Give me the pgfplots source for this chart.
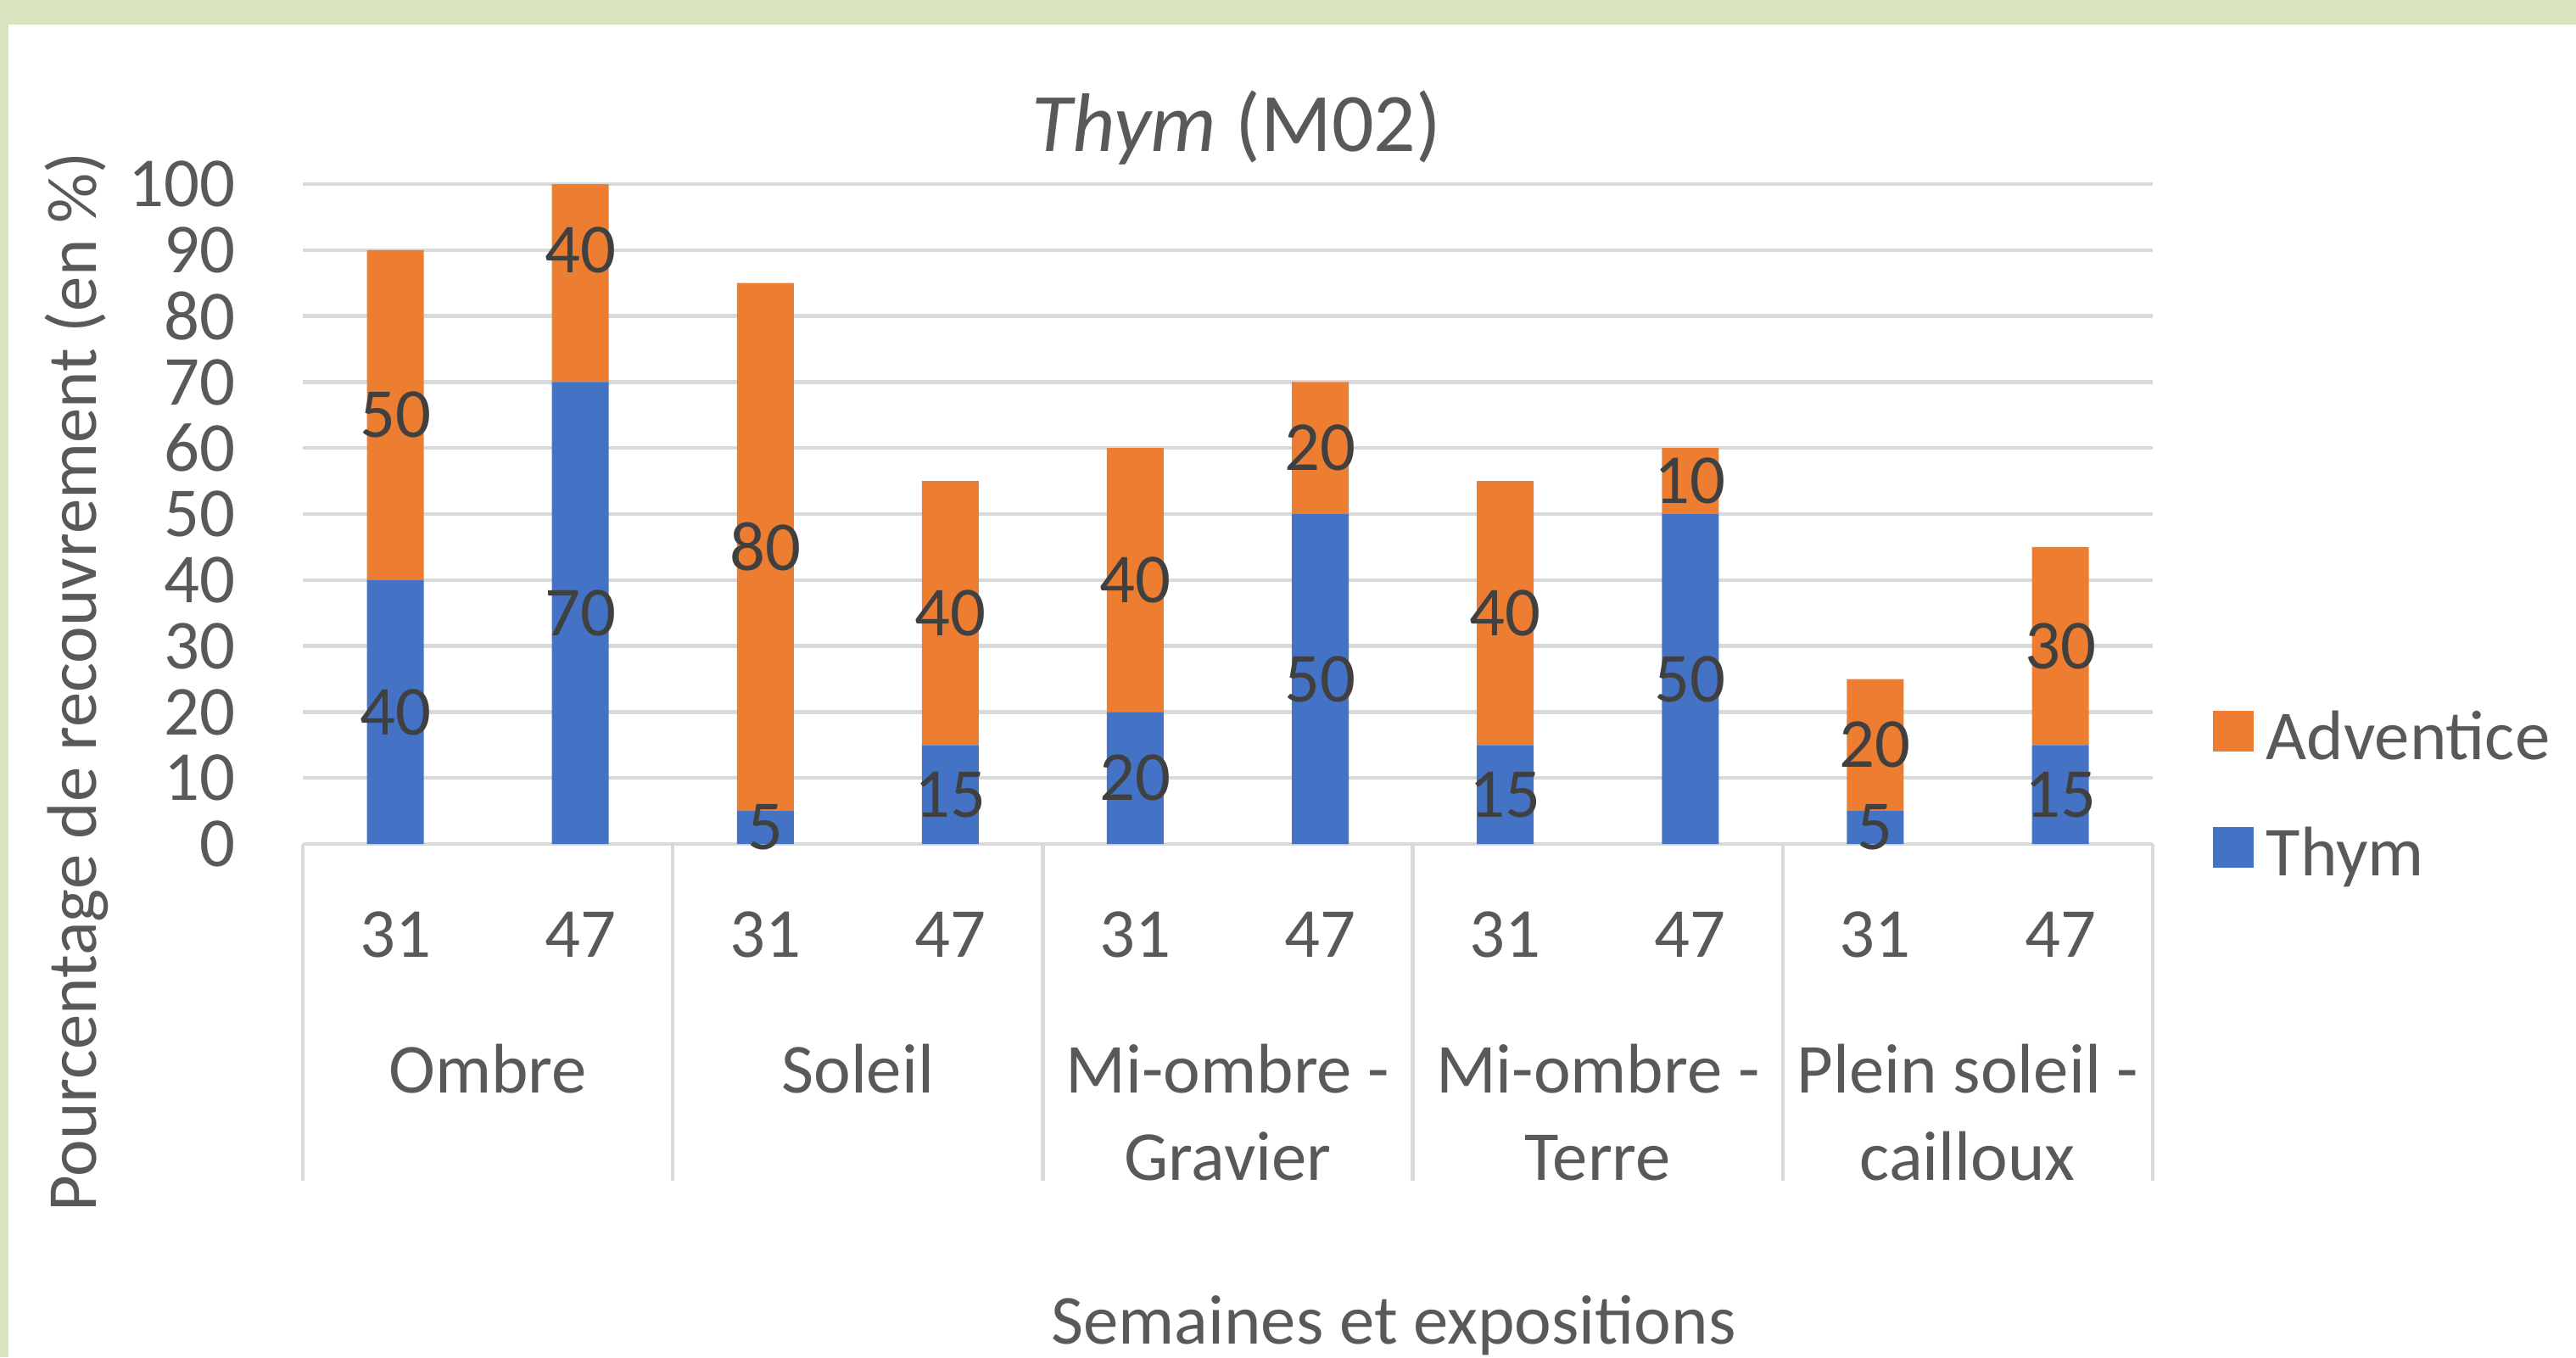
\documentclass[border=0pt]{standalone}
\usepackage{pgfplots}
\pgfplotsset{compat=1.18}
\usepackage{fontspec}
\setmainfont{Carlito}
\definecolor{bgreen}{HTML}{D7E4BD}
\definecolor{cadv}{HTML}{ED7D31}
\definecolor{cthy}{HTML}{4472C4}
\definecolor{gridc}{HTML}{D9D9D9}
\definecolor{txt}{HTML}{595959}
\definecolor{lbl}{HTML}{404040}
\newcommand{\fs}{\fontsize{20.7}{25.3}\selectfont}
\pgfplotstableread{
x thym adv
0 40 50
1 70 40
2 5 80
3 15 40
4 20 40
5 50 20
6 15 40
7 50 10
8 5 20
9 15 30
}\datatab
\pgfplotstableread{
x y l
0 20 40
1 35 70
2 2.5 5
3 7.5 15
4 10 20
5 25 50
6 7.5 15
7 25 50
8 2.5 5
9 7.5 15
0 65 50
1 90 40
2 45 80
3 35 40
4 40 40
5 60 20
6 35 40
7 55 10
8 15 20
9 30 30
}\labtab
\begin{document}
\begin{tikzpicture}
\path[use as bounding box] (0,0) rectangle (759.25pt,-400pt);
\fill[bgreen] (0,0) rectangle (759.25pt,-400pt);
\fill[white] (2.5pt,-7.25pt) rectangle (759.25pt,-400pt);
\begin{axis}[
  at={(89.25pt,-248.75pt)}, anchor=south west,
  scale only axis, width=545.25pt, height=194.5pt,
  xmin=-0.5, xmax=9.5, ymin=0, ymax=100,
  ybar stacked, bar width=16.75pt,
  axis line style={draw=none},
  ymajorgrids, grid style={gridc, line width=1.1pt},
  ytick={0,10,...,100},
  major tick length=0pt,
  tick pos=left,
  xtick={0,...,9},
  xticklabels={31,47,31,47,31,47,31,47,31,47},
  tick label style={font=\fs, text=txt, inner sep=0pt},
  xticklabel style={anchor=base, yshift=-33.25pt},
  yticklabel style={anchor=east, xshift=-19.75pt},
  /pgf/number format/assume math mode=true,
  extra x ticks={-0.5,1.5,3.5,5.5,7.5,9.5},
  extra x tick labels={},
  extra x tick style={grid=none, major tick length=99.25pt, tick align=outside, tick style={gridc, line width=1.1pt}},
  reverse legend,
  legend image code/.code={\fill[#1] (0pt,-4.1pt) rectangle (12pt,7.9pt);},
  legend style={at={(1.0321,0.0727)}, anchor=west, draw=none, fill=none,
    font=\fs, text=txt, inner sep=0pt, row sep=18.4pt, column sep=3.75pt,
    nodes={inner sep=0pt}},
  legend cell align=left,
]
\addplot[fill=cthy, draw=none] table[x=x, y=thym] {\datatab};
\addlegendentry{Thym}
\addplot[fill=cadv, draw=none] table[x=x, y=adv] {\datatab};
\addlegendentry{Adventice}
\end{axis}
\begin{axis}[
  at={(89.25pt,-248.75pt)}, anchor=south west,
  scale only axis, width=545.25pt, height=194.5pt,
  xmin=-0.5, xmax=9.5, ymin=0, ymax=100,
  hide axis, clip=false,
]
\addplot[draw=none, mark=none, nodes near coords, point meta=explicit symbolic,
  nodes near coords align={center},
  every node near coord/.append style={font=\fs, text=lbl, inner sep=0pt}]
  table[x=x, y=y, meta=l] {\labtab};
\begin{scope}[every node/.style={anchor=base, font=\fs, text=txt, inner sep=0pt}]
\node[yshift=-73.25pt] at (axis cs:0.5,0) {Ombre};
\node[yshift=-73.25pt] at (axis cs:2.5,0) {Soleil};
\node[yshift=-73.25pt] at (axis cs:4.5,0) {Mi-ombre -};
\node[yshift=-99pt] at (axis cs:4.5,0) {Gravier};
\node[yshift=-73.25pt] at (axis cs:6.5,0) {Mi-ombre -};
\node[yshift=-99pt] at (axis cs:6.5,0) {Terre};
\node[yshift=-73.25pt] at (axis cs:8.5,0) {Plein soleil -};
\node[yshift=-99pt] at (axis cs:8.5,0) {cailloux};
\end{scope}
\end{axis}
\node[anchor=base, font=\fontsize{24.5}{29}\selectfont, text=txt, inner sep=0pt] at (364.5pt,-44.5pt) {\textit{Thym} (M02)};
\node[anchor=base, font=\fs, text=txt, inner sep=0pt] at (410.75pt,-396pt) {Semaines et expositions};
\node[anchor=base, rotate=90, font=\fs, text=txt, inner sep=0pt] at (28.25pt,-201pt) {Pourcentage de recouvrement (en \%)};
\end{tikzpicture}
\end{document}
